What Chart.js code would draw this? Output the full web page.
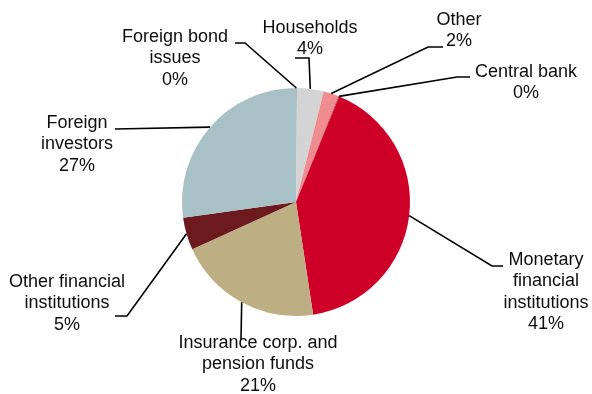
<!DOCTYPE html>
<html lang="en">
<head>
    <meta charset="UTF-8">
    <title>Holders of government debt</title>
    <script src="https://cdn.jsdelivr.net/npm/chart.js"></script>
    <style>
        body {
            margin: 0;
            background-color: #ffffff;
        }
        .chart-box {
            width: 592px;
            height: 394px;
        }
    </style>
</head>
<body>
    <div class="chart-box">
        <canvas id="pieChart" width="592" height="394"></canvas>
    </div>

    <script>
        // sector names (each label line split with \n)
        const sectors = [
            'Foreign bond\nissues',
            'Households',
            'Other',
            'Central bank',
            'Monetary\nfinancial\ninstitutions',
            'Insurance corp. and\npension funds',
            'Other financial\ninstitutions',
            'Foreign\ninvestors'
        ];
        // share of total, %
        const shares = [0.1, 3.8, 2.2, 0.1, 41.4, 20.6, 4.6, 27.2];
        const sliceColors = ['#6f8f98', '#d4d4d4', '#ef8c90', '#b0102a', '#ce0027', '#bdae84', '#6d1a1f', '#a8c1c7'];

        // label placement: text centre x, first line y, leader line points after the arc
        const labelPlacement = [
            { x: 175, y: 37, line: [[245, 43], [235, 43]] },
            { x: 310, y: 28, line: [[309, 58], [295, 58]] },
            { x: 459, y: 20, line: [[428, 47], [443, 47]] },
            { x: 526, y: 72, line: [[457, 77], [470, 77]] },
            { x: 546, y: 260, line: [[492, 266], [503, 266]] },
            { x: 258, y: 343, line: [[241, 340]] },
            { x: 67, y: 282, line: [[127, 316], [115, 316]] },
            { x: 77, y: 123, line: [[115, 129]] }
        ];

        const lineGap = 21.5;

        const leaderLabels = {
            id: 'leaderLabels',
            afterDraw(chart) {
                const ctx = chart.ctx;
                const arcs = chart.getDatasetMeta(0).data;
                ctx.save();
                ctx.strokeStyle = '#000000';
                ctx.lineWidth = 1.6;
                ctx.fillStyle = '#0d0d0d';
                ctx.font = '18px "Liberation Sans", Arial, sans-serif';
                ctx.textAlign = 'center';
                ctx.textBaseline = 'middle';

                arcs.forEach((arc, i) => {
                    const p = arc.getProps(['x', 'y', 'startAngle', 'endAngle', 'outerRadius'], true);
                    const mid = (p.startAngle + p.endAngle) / 2;
                    const place = labelPlacement[i];

                    // leader line from the slice edge
                    ctx.beginPath();
                    ctx.moveTo(p.x + Math.cos(mid) * p.outerRadius, p.y + Math.sin(mid) * p.outerRadius);
                    place.line.forEach(pt => ctx.lineTo(pt[0], pt[1]));
                    ctx.stroke();

                    // label text + rounded share
                    const lines = sectors[i].split('\n');
                    lines.push(Math.round(shares[i]) + '%');
                    lines.forEach((txt, k) => {
                        ctx.fillText(txt, place.x, place.y + k * lineGap);
                    });
                });
                ctx.restore();
            }
        };

        new Chart(document.getElementById('pieChart'), {
            type: 'pie',
            data: {
                labels: sectors,
                datasets: [{
                    data: shares,
                    backgroundColor: sliceColors,
                    borderWidth: 0,
                    hoverOffset: 0,
                    offset: 0
                }]
            },
            options: {
                responsive: false,
                animation: false,
                layout: {
                    padding: { top: 88, bottom: 78, left: 182, right: 182 }
                },
                plugins: {
                    legend: { display: false },
                    tooltip: { enabled: false }
                }
            },
            plugins: [leaderLabels]
        });
    </script>
</body>
</html>
